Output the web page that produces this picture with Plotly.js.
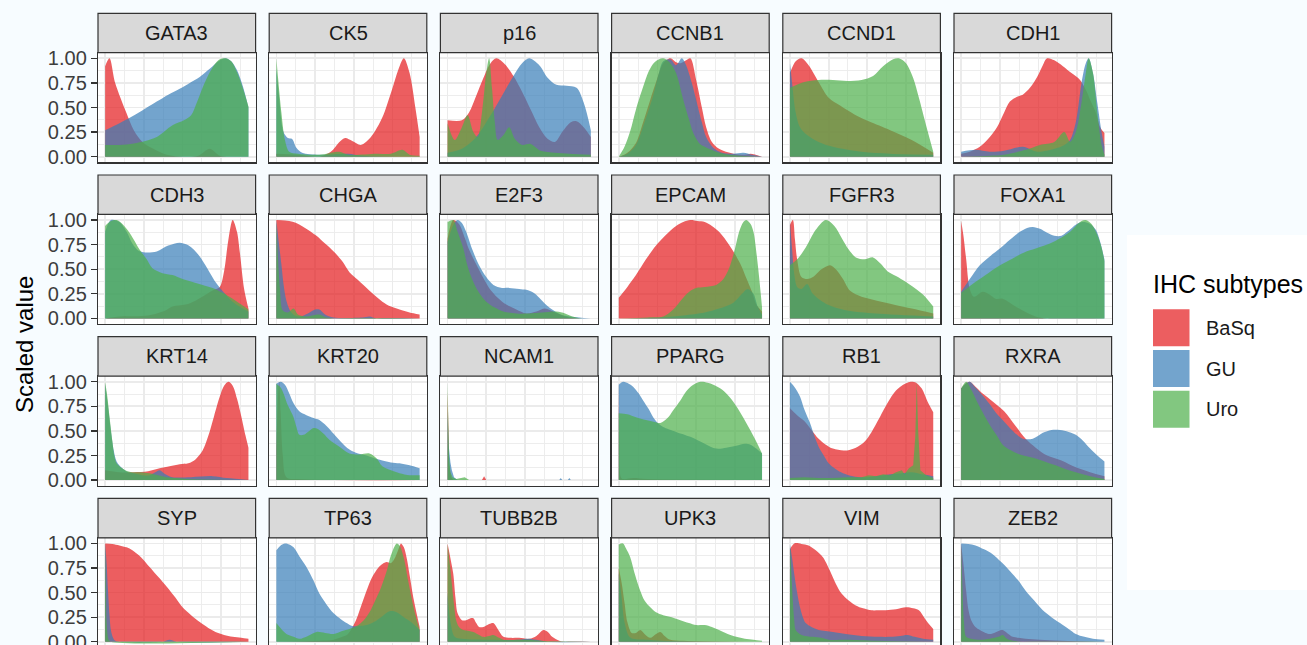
<!DOCTYPE html>
<html>
<head>
<meta charset="utf-8">
<script src="https://cdn.plot.ly/plotly-3.0.1.min.js"></script>
<style>
html,body{margin:0;padding:0;background:#f7fcff;overflow:hidden;}
#wrap{width:1307px;height:645px;overflow:hidden;}
#plot{width:1307px;height:660px;}
</style>
</head>
<body>
<div id="wrap"><div id="plot"></div></div>
<script>
// ---------- categories ----------
const subtypes = ['BaSq', 'GU', 'Uro'];
const genes = ['GATA3','CK5','p16','CCNB1','CCND1','CDH1',
               'CDH3','CHGA','E2F3','EPCAM','FGFR3','FOXA1',
               'KRT14','KRT20','NCAM1','PPARG','RB1','RXRA',
               'SYP','TP63','TUBB2B','UPK3','VIM','ZEB2'];
const yTickVals = [0, 0.25, 0.5, 0.75, 1];
const yTickText = ['0.00', '0.25', '0.50', '0.75', '1.00'];

// ---------- series values: [scaled expression, scaled density] ----------
const GATA3_BaSq = [[0,.92],[.03,1],[.07,.75],[.15,.44],[.2,.27],[.26,.15],[.33,.085],[.43,.02],[.55,0],[.65,.01],[.73,.08],[.8,.01],[.9,0],[1,0]];
const GATA3_GU = [[0,.27],[.1,.34],[.19,.41],[.28,.49],[.36,.56],[.44,.63],[.52,.69],[.59,.75],[.66,.81],[.71,.87],[.75,.92],[.8,.98],[.84,1],[.88,.97],[.92,.88],[.96,.72],[1,.5]];
const GATA3_Uro = [[0,.12],[.1,.12],[.2,.135],[.28,.16],[.36,.2],[.47,.32],[.55,.37],[.6,.42],[.64,.55],[.68,.7],[.72,.83],[.76,.93],[.8,.99],[.84,1],[.88,.97],[.92,.86],[.96,.7],[1,.51]];

const CK5_BaSq = [[0,.03],[.15,.02],[.3,0],[.38,.05],[.44,.15],[.48,.19],[.53,.16],[.59,.12],[.66,.2],[.74,.4],[.8,.65],[.86,.92],[.89,1],[.93,.85],[.97,.5],[1,.2]];
const CK5_GU = [[0,.9],[.02,.6],[.05,.25],[.08,.19],[.11,.18],[.14,.09],[.18,.04],[.3,.02],[.5,.03],[.6,.01],[1,0]];
const CK5_Uro = [[0,1],[.015,.75],[.035,.45],[.06,.17],[.09,.05],[.15,.03],[.3,.02],[.44,.05],[.5,.02],[.7,.03],[.8,.03],[.88,.07],[.93,.02],[1,.01]];

const p16_BaSq = [[0,.37],[.1,.37],[.15,.45],[.2,.62],[.25,.8],[.3,.95],[.34,1],[.4,.94],[.46,.82],[.52,.66],[.58,.48],[.64,.3],[.7,.18],[.75,.15],[.8,.25],[.86,.35],[.9,.36],[.95,.3],[1,.2]];
const p16_GU = [[0,.04],[.1,.08],[.2,.2],[.3,.42],[.38,.62],[.46,.82],[.52,.95],[.57,1],[.64,.93],[.7,.8],[.76,.73],[.83,.72],[.9,.7],[.95,.55],[1,.27]];
const p16_Uro = [[0,.34],[.05,.17],[.1,.3],[.14,.42],[.18,.25],[.21,.2],[.24,.45],[.27,.85],[.29,1],[.31,.7],[.33,.35],[.35,.17],[.39,.22],[.43,.3],[.47,.18],[.52,.12],[.58,.13],[.65,.06],[.75,.04],[.85,.03],[1,.02]];

const CCNB1_BaSq = [[0,0],[.06,.04],[.12,.14],[.17,.35],[.22,.58],[.27,.8],[.31,.95],[.36,1],[.4,.96],[.43,.95],[.47,.98],[.5,1],[.54,.78],[.58,.5],[.61,.3],[.65,.15],[.7,.08],[.8,.03],[.88,.02],[.92,.03],[1,0]];
const CCNB1_GU = [[0,0],[.06,.03],[.12,.12],[.18,.35],[.24,.62],[.28,.85],[.31,.97],[.36,.99],[.4,.93],[.44,1],[.47,.93],[.51,.75],[.54,.58],[.58,.35],[.61,.2],[.66,.09],[.72,.04],[.8,.03],[.87,.04],[.93,.02],[1,0]];
const CCNB1_Uro = [[0,0],[.04,.1],[.08,.26],[.12,.48],[.17,.71],[.21,.87],[.25,.96],[.31,1],[.36,.95],[.4,.85],[.45,.58],[.49,.38],[.52,.24],[.56,.14],[.6,.1],[.68,.05],[.77,.02],[.85,.01],[1,0]];

const CCND1_BaSq = [[0,.85],[.04,.97],[.08,1],[.13,.93],[.2,.76],[.27,.6],[.35,.52],[.45,.43],[.55,.36],[.7,.27],[.85,.17],[1,.04]];
const CCND1_GU = [[0,.95],[.015,.75],[.04,.45],[.07,.3],[.12,.22],[.2,.15],[.3,.1],[.5,.05],[.7,.03],[1,.02]];
const CCND1_Uro = [[0,.7],[.1,.76],[.2,.78],[.3,.78],[.4,.77],[.5,.78],[.58,.82],[.65,.92],[.72,.99],[.76,1],[.81,.95],[.86,.8],[.9,.6],[.95,.32],[1,.05]];

const CDH1_BaSq = [[0,.03],[.06,.05],[.13,.1],[.2,.2],[.25,.3],[.3,.45],[.34,.56],[.39,.61],[.43,.63],[.48,.7],[.53,.81],[.57,.93],[.6,1],[.65,.98],[.71,.92],[.77,.85],[.83,.78],[.87,.68],[.9,.58],[.94,.45],[.97,.3],[1,.24]];
const CDH1_GU = [[0,.05],[.1,.07],[.2,.05],[.3,.06],[.43,.1],[.53,.05],[.65,.08],[.72,.12],[.76,.17],[.8,.35],[.84,.75],[.87,.95],[.89,1],[.92,.85],[.95,.55],[.98,.25],[1,.1]];
const CDH1_Uro = [[0,0],[.2,.01],[.3,.02],[.45,.07],[.55,.12],[.65,.15],[.72,.25],[.76,.15],[.8,.25],[.84,.55],[.87,.85],[.89,1],[.92,.85],[.95,.45],[.98,.12],[1,.02]];

const CDH3_BaSq = [[0,0],[.1,.02],[.3,.03],[.42,.08],[.47,.12],[.56,.14],[.63,.18],[.7,.24],[.76,.29],[.8,.32],[.83,.48],[.86,.8],[.89,1],[.92,.88],[.94,.67],[.97,.3],[1,.1]];
const CDH3_GU = [[0,.88],[.04,1],[.1,.98],[.15,.88],[.19,.76],[.23,.69],[.28,.67],[.36,.68],[.44,.74],[.52,.77],[.57,.75],[.61,.71],[.66,.63],[.7,.54],[.77,.37],[.83,.26],[.89,.17],[.95,.11],[1,.07]];
const CDH3_Uro = [[0,.94],[.04,.99],[.08,1],[.12,.96],[.16,.89],[.2,.8],[.24,.7],[.29,.6],[.33,.51],[.4,.46],[.47,.44],[.54,.4],[.61,.37],[.68,.34],[.75,.31],[.82,.26],[.89,.2],[.95,.14],[1,.09]];

const CHGA_BaSq = [[0,1],[.06,.995],[.12,.98],[.2,.92],[.28,.84],[.34,.76],[.4,.68],[.46,.58],[.51,.47],[.57,.39],[.63,.31],[.69,.23],[.74,.17],[.8,.12],[.86,.09],[.93,.06],[1,.04]];
const CHGA_GU = [[0,1],[.015,.8],[.035,.55],[.05,.35],[.07,.18],[.1,.07],[.13,.03],[.17,.02],[.22,.05],[.27,.09],[.3,.09],[.34,.04],[.4,.01],[.6,.01],[.65,.02],[.7,0],[1,0]];
const CHGA_Uro = [[0,.98],[.012,.6],[.025,.3],[.045,.08],[.08,.06],[.12,.1],[.15,.04],[.2,.02],[.3,.04],[.35,.01],[1,0]];

const E2F3_BaSq = [[0,.81],[.04,1],[.08,.96],[.12,.82],[.15,.7],[.2,.55],[.25,.41],[.29,.31],[.35,.21],[.41,.14],[.48,.09],[.55,.05],[.62,.07],[.68,.1],[.75,.06],[.85,.01],[1,0]];
const E2F3_GU = [[0,.78],[.04,.95],[.07,1],[.1,.97],[.13,.88],[.17,.71],[.22,.54],[.27,.42],[.32,.34],[.38,.31],[.43,.31],[.5,.3],[.55,.29],[.6,.26],[.64,.21],[.68,.15],[.73,.09],[.79,.04],[.85,.02],[.92,.01],[1,0]];
const E2F3_Uro = [[0,.98],[.04,1],[.07,.88],[.11,.71],[.14,.53],[.18,.37],[.22,.26],[.27,.17],[.33,.11],[.39,.07],[.48,.05],[.57,.05],[.66,.06],[.76,.07],[.82,.05],[.87,.02],[.94,0],[1,0]];

const EPCAM_BaSq = [[0,.21],[.06,.32],[.12,.44],[.19,.6],[.26,.74],[.33,.85],[.4,.94],[.45,.98],[.5,1],[.55,.99],[.6,.98],[.65,.94],[.7,.88],[.75,.79],[.8,.68],[.85,.55],[.89,.41],[.93,.27],[.96,.14],[1,.07]];
const EPCAM_GU = [[0,0],[.3,.01],[.45,.03],[.6,.06],[.7,.1],[.8,.16],[.86,.25],[.9,.3],[.94,.25],[.97,.12],[1,.04]];
const EPCAM_Uro = [[0,0],[.2,.01],[.31,.02],[.38,.09],[.45,.21],[.5,.28],[.54,.31],[.6,.32],[.68,.34],[.73,.4],[.77,.51],[.81,.7],[.84,.88],[.87,.98],[.89,1],[.92,.96],[.94,.88],[.97,.55],[1,.11]];

const FGFR3_BaSq = [[0,.95],[.02,1],[.035,.8],[.05,.6],[.08,.42],[.12,.4],[.16,.42],[.22,.5],[.28,.54],[.32,.5],[.37,.4],[.42,.28],[.5,.22],[.58,.19],[.7,.15],[.85,.1],[1,.05]];
const FGFR3_GU = [[0,.98],[.015,.7],[.03,.45],[.05,.32],[.08,.3],[.12,.35],[.16,.25],[.25,.15],[.4,.08],[.6,.05],[1,.02]];
const FGFR3_Uro = [[0,.54],[.05,.6],[.11,.72],[.18,.9],[.25,1],[.31,.94],[.36,.82],[.41,.7],[.46,.62],[.52,.6],[.58,.62],[.63,.56],[.68,.48],[.74,.43],[.81,.37],[.87,.31],[.93,.24],[1,.12]];

const FOXA1_BaSq = [[0,.99],[.015,.85],[.035,.6],[.06,.3],[.09,.22],[.15,.27],[.2,.24],[.24,.2],[.29,.2],[.34,.16],[.38,.12],[.43,.08],[.52,.02],[.6,0],[1,0]];
const FOXA1_GU = [[0,.27],[.06,.4],[.13,.54],[.2,.63],[.27,.71],[.34,.8],[.41,.88],[.46,.92],[.5,.93],[.55,.91],[.6,.87],[.65,.84],[.7,.84],[.74,.88],[.78,.93],[.82,.97],[.86,.98],[.9,.96],[.94,.9],[.97,.78],[1,.6]];
const FOXA1_Uro = [[0,.26],[.08,.35],[.17,.44],[.26,.53],[.36,.61],[.44,.67],[.52,.71],[.6,.75],[.66,.79],[.72,.84],[.76,.88],[.8,.94],[.84,.99],[.87,1],[.91,.96],[.95,.85],[.98,.72],[1,.58]];

const KRT14_BaSq = [[0,.1],[.1,.08],[.2,.08],[.3,.09],[.38,.12],[.45,.14],[.52,.16],[.58,.17],[.63,.21],[.68,.3],[.72,.45],[.76,.65],[.8,.85],[.83,.96],[.86,1],[.89,.96],[.92,.83],[.95,.65],[.98,.45],[1,.33]];
const KRT14_GU = [[0,.98],[.02,.75],[.04,.5],[.06,.3],[.08,.19],[.12,.12],[.16,.08],[.2,.07],[.26,.05],[.31,.05],[.35,.08],[.38,.1],[.42,.06],[.47,.03],[.6,.03],[.75,.04],[.85,.02],[1,0]];
const KRT14_Uro = [[0,1],[.015,.85],[.03,.65],[.05,.4],[.065,.24],[.08,.17],[.1,.14],[.14,.1],[.19,.08],[.25,.08],[.31,.07],[.37,.05],[.43,.03],[.5,.02],[.57,.01],[1,0]];

const KRT20_BaSq = [[0,.3],[.01,.8],[.02,1],[.03,.7],[.045,.25],[.07,.03],[.15,.01],[1,0]];
const KRT20_GU = [[0,.98],[.03,1],[.06,.97],[.09,.88],[.12,.78],[.16,.7],[.21,.66],[.26,.63],[.3,.61],[.35,.55],[.4,.47],[.45,.39],[.51,.31],[.57,.27],[.63,.25],[.69,.22],[.74,.2],[.8,.18],[.86,.17],[.93,.15],[1,.12]];
const KRT20_Uro = [[0,.98],[.03,.94],[.05,.88],[.08,.76],[.12,.64],[.14,.54],[.16,.46],[.19,.46],[.22,.49],[.26,.53],[.29,.52],[.33,.47],[.37,.41],[.44,.34],[.51,.27],[.58,.26],[.65,.27],[.7,.22],[.74,.14],[.8,.1],[.86,.07],[.93,.05],[1,.05]];

const NCAM1_BaSq = [[0,.9],[.005,.5],[.012,.15],[.025,.03],[.04,0],[.24,0],[.255,.04],[.27,0],[1,0]];
const NCAM1_GU = [[0,.7],[.008,.35],[.02,.18],[.03,.1],[.045,.03],[.07,0],[.78,0],[.79,.02],[.8,0],[.84,0],[.85,.02],[.86,0],[1,0]];
const NCAM1_Uro = [[0,1],[.004,.6],[.01,.25],[.02,.08],[.035,.03],[.06,.01],[.1,.02],[.12,.03],[.15,0],[1,0]];

const PPARG_BaSq = [[0,1],[.005,.4],[.015,.03],[.03,.01],[.1,.02],[.2,.01],[1,0]];
const PPARG_GU = [[0,.97],[.03,1],[.07,.98],[.1,.95],[.14,.88],[.17,.81],[.21,.72],[.24,.64],[.28,.57],[.31,.54],[.4,.49],[.5,.44],[.6,.37],[.68,.32],[.75,.33],[.82,.35],[.88,.37],[.92,.36],[.96,.32],[1,.27]];
const PPARG_Uro = [[0,.68],[.06,.67],[.12,.64],[.19,.61],[.25,.59],[.29,.58],[.34,.63],[.38,.71],[.43,.81],[.47,.9],[.51,.96],[.57,1],[.62,.99],[.66,.97],[.71,.93],[.77,.85],[.83,.73],[.89,.58],[.95,.42],[1,.27]];

const RB1_BaSq = [[0,.73],[.05,.66],[.1,.6],[.15,.51],[.2,.42],[.25,.36],[.3,.32],[.38,.3],[.46,.33],[.52,.39],[.57,.49],[.62,.62],[.66,.73],[.7,.83],[.74,.91],[.78,.96],[.82,.99],[.85,1],[.88,.99],[.92,.93],[.96,.8],[1,.69]];
const RB1_GU = [[0,1],[.03,.95],[.07,.85],[.1,.72],[.14,.58],[.17,.45],[.2,.34],[.24,.24],[.27,.17],[.32,.11],[.37,.07],[.44,.04],[.51,.03],[.6,.04],[.7,.06],[.78,.07],[.85,.08],[.92,.06],[.97,.05],[1,.04]];
const RB1_Uro = [[0,.02],[.1,.03],[.2,.02],[.3,.02],[.4,.03],[.5,.03],[.55,.05],[.6,.04],[.65,.06],[.7,.05],[.74,.08],[.78,.1],[.8,.06],[.83,.12],[.86,.15],[.875,.45],[.885,1],[.895,.5],[.91,.1],[.95,.05],[1,.02]];

const RXRA_BaSq = [[0,.93],[.03,.98],[.06,1],[.1,.95],[.15,.88],[.22,.8],[.3,.7],[.38,.55],[.45,.42],[.52,.33],[.6,.25],[.7,.2],[.8,.13],[.9,.08],[1,.04]];
const RXRA_GU = [[0,.93],[.03,.98],[.06,1],[.1,.94],[.15,.86],[.2,.77],[.24,.69],[.29,.61],[.34,.53],[.39,.46],[.43,.42],[.5,.42],[.57,.48],[.63,.51],[.69,.51],[.75,.49],[.8,.46],[.85,.4],[.9,.32],[.95,.25],[1,.19]];
const RXRA_Uro = [[0,.93],[.035,1],[.07,.92],[.1,.83],[.15,.69],[.2,.56],[.25,.45],[.29,.36],[.35,.3],[.41,.26],[.52,.22],[.6,.18],[.66,.15],[.73,.11],[.8,.08],[.9,.04],[1,.01]];

const SYP_BaSq = [[0,1],[.05,.995],[.1,.98],[.15,.96],[.19,.93],[.25,.86],[.31,.76],[.37,.66],[.43,.56],[.49,.45],[.54,.35],[.6,.27],[.66,.2],[.72,.14],[.77,.1],[.83,.07],[.89,.05],[.95,.04],[1,.03]];
const SYP_GU = [[0,1],[.01,.8],[.02,.52],[.03,.28],[.04,.12],[.055,.04],[.07,.01],[.4,0],[.45,.02],[.5,0],[1,0]];
const SYP_Uro = [[0,.99],[.005,.6],[.01,.2],[.018,.06],[.025,.02],[.04,0],[1,0]];

const TP63_BaSq = [[0,0],[.3,.01],[.4,.02],[.46,.05],[.5,.08],[.55,.2],[.6,.4],[.64,.56],[.67,.66],[.71,.75],[.74,.79],[.77,.81],[.8,.8],[.83,.86],[.86,.97],[.87,1],[.89,.96],[.91,.85],[.93,.68],[.96,.42],[1,.15]];
const TP63_GU = [[0,.93],[.03,.98],[.06,1],[.09,.99],[.12,.96],[.16,.87],[.21,.76],[.26,.62],[.3,.49],[.35,.38],[.4,.29],[.45,.23],[.49,.19],[.53,.16],[.58,.16],[.63,.17],[.68,.2],[.74,.26],[.79,.31],[.84,.3],[.89,.25],[.94,.2],[1,.12]];
const TP63_Uro = [[0,.19],[.04,.12],[.07,.08],[.12,.05],[.16,.03],[.22,.06],[.28,.1],[.34,.09],[.4,.08],[.46,.11],[.51,.13],[.56,.16],[.61,.22],[.65,.3],[.69,.42],[.73,.55],[.77,.72],[.8,.88],[.84,1],[.86,.98],[.89,.85],[.92,.62],[.95,.4],[.98,.22],[1,.12]];

const TUBB2B_BaSq = [[0,1],[.02,.85],[.04,.69],[.055,.45],[.07,.29],[.1,.22],[.13,.22],[.16,.24],[.18,.24],[.2,.19],[.22,.15],[.25,.15],[.29,.18],[.32,.19],[.35,.13],[.39,.05],[.44,.04],[.5,.04],[.57,.03],[.62,.06],[.67,.12],[.7,.1],[.73,.05],[.78,.01],[.82,0],[1,0]];
const TUBB2B_GU = [[0,.5],[.02,.2],[.05,.05],[.1,.03],[.3,.02],[.5,.02],[.55,.03],[.62,.02],[.7,0],[1,0]];
const TUBB2B_Uro = [[0,.99],[.015,.8],[.03,.59],[.045,.38],[.06,.22],[.08,.15],[.11,.12],[.15,.11],[.18,.1],[.22,.07],[.25,.05],[.29,.06],[.32,.07],[.36,.04],[.39,.02],[.5,.02],[.57,.02],[.65,.01],[1,0]];

const UPK3_BaSq = [[0,.75],[.02,.6],[.04,.4],[.06,.2],[.09,.09],[.12,.09],[.15,.12],[.18,.08],[.22,.04],[.26,.08],[.29,.1],[.32,.06],[.36,.02],[.45,.01],[1,0]];
const UPK3_GU = [[0,.7],[.02,.45],[.04,.2],[.07,.06],[.1,.03],[.2,.02],[.3,.01],[1,0]];
const UPK3_Uro = [[0,.99],[.03,1],[.05,.95],[.08,.86],[.11,.7],[.15,.52],[.18,.42],[.22,.35],[.26,.3],[.31,.27],[.37,.25],[.43,.22],[.49,.19],[.54,.17],[.6,.17],[.65,.15],[.7,.12],[.76,.08],[.82,.05],[.88,.03],[.94,.02],[1,.01]];

const VIM_BaSq = [[0,.94],[.03,1],[.08,.995],[.13,.98],[.18,.93],[.23,.86],[.28,.72],[.32,.59],[.36,.49],[.41,.42],[.46,.37],[.51,.34],[.57,.32],[.62,.32],[.67,.32],[.74,.33],[.81,.35],[.86,.34],[.9,.32],[.94,.24],[.97,.18],[1,.13]];
const VIM_GU = [[0,.99],[.015,.85],[.03,.69],[.05,.5],[.07,.35],[.09,.25],[.11,.19],[.15,.15],[.2,.12],[.3,.1],[.39,.08],[.5,.06],[.62,.05],[.7,.05],[.77,.06],[.82,.07],[.87,.05],[.93,.03],[1,.02]];
const VIM_Uro = [[0,.96],[.01,.7],[.02,.42],[.03,.22],[.04,.12],[.08,.07],[.16,.05],[.22,.04],[.27,.02],[.4,.02],[.6,.01],[1,0]];

const ZEB2_BaSq = [[0,1],[.015,.8],[.035,.52],[.05,.33],[.07,.22],[.1,.15],[.13,.12],[.17,.09],[.2,.08],[.23,.09],[.26,.11],[.29,.12],[.32,.09],[.36,.05],[.4,.04],[.45,.03],[.55,.02],[.7,.01],[1,0]];
const ZEB2_GU = [[0,1],[.05,.995],[.1,.98],[.16,.94],[.22,.89],[.28,.81],[.34,.72],[.4,.62],[.45,.52],[.51,.42],[.57,.32],[.63,.25],[.69,.19],[.75,.13],[.8,.08],[.86,.05],[.92,.03],[1,.02]];
const ZEB2_Uro = [[0,.98],[.008,.6],[.02,.19],[.035,.05],[.07,.03],[.13,.02],[.2,.03],[.26,.05],[.29,.07],[.32,.03],[.36,.01],[1,0]];

// lookup built from the arrays above
const SERIES = {
  GATA3:[GATA3_BaSq,GATA3_GU,GATA3_Uro], CK5:[CK5_BaSq,CK5_GU,CK5_Uro], p16:[p16_BaSq,p16_GU,p16_Uro],
  CCNB1:[CCNB1_BaSq,CCNB1_GU,CCNB1_Uro], CCND1:[CCND1_BaSq,CCND1_GU,CCND1_Uro], CDH1:[CDH1_BaSq,CDH1_GU,CDH1_Uro],
  CDH3:[CDH3_BaSq,CDH3_GU,CDH3_Uro], CHGA:[CHGA_BaSq,CHGA_GU,CHGA_Uro], E2F3:[E2F3_BaSq,E2F3_GU,E2F3_Uro],
  EPCAM:[EPCAM_BaSq,EPCAM_GU,EPCAM_Uro], FGFR3:[FGFR3_BaSq,FGFR3_GU,FGFR3_Uro], FOXA1:[FOXA1_BaSq,FOXA1_GU,FOXA1_Uro],
  KRT14:[KRT14_BaSq,KRT14_GU,KRT14_Uro], KRT20:[KRT20_BaSq,KRT20_GU,KRT20_Uro], NCAM1:[NCAM1_BaSq,NCAM1_GU,NCAM1_Uro],
  PPARG:[PPARG_BaSq,PPARG_GU,PPARG_Uro], RB1:[RB1_BaSq,RB1_GU,RB1_Uro], RXRA:[RXRA_BaSq,RXRA_GU,RXRA_Uro],
  SYP:[SYP_BaSq,SYP_GU,SYP_Uro], TP63:[TP63_BaSq,TP63_GU,TP63_Uro], TUBB2B:[TUBB2B_BaSq,TUBB2B_GU,TUBB2B_Uro],
  UPK3:[UPK3_BaSq,UPK3_GU,UPK3_Uro], VIM:[VIM_BaSq,VIM_GU,VIM_Uro], ZEB2:[ZEB2_BaSq,ZEB2_GU,ZEB2_Uro]
};

// ---------- styles / geometry ----------
const W = 1307, H = 660;
const FONT = '"Liberation Sans", Arial, Helvetica, sans-serif';
const fills = ['rgba(228,26,28,0.7)', 'rgba(55,126,184,0.7)', 'rgba(77,175,74,0.7)'];
const linearSeries = new Set(['NCAM1_0','NCAM1_1','NCAM1_2','RB1_2']);
const colLeft0 = 98, colStep = 171.2, panelW = 157.6;
const rowTop0 = 13.3, rowStep = 161.7, stripH = 39.4, panelH = 109.6;
const xMajor = [0, 0.27, 0.54, 0.81], xMinor = [0.135, 0.405, 0.675, 0.945];
const yMinor = [0.125, 0.375, 0.625, 0.875];

const px = v => v / W;
const py = v => 1 - v / H;

const traces = [];
const layout = {
  width: W, height: H,
  margin: {l: 0, r: 0, t: 0, b: 0},
  paper_bgcolor: '#f7fcff',
  plot_bgcolor: '#ffffff',
  showlegend: false,
  font: {family: FONT, color: '#1a1a1a'},
  shapes: [], annotations: []
};

genes.forEach((g, i) => {
  const c = i % 6, r = Math.floor(i / 6);
  const n = i + 1, sfx = n === 1 ? '' : String(n);
  const L = colLeft0 + c * colStep;
  const T = rowTop0 + r * rowStep;
  const pTop = T + stripH, pBot = pTop + panelH;

  SERIES[g].forEach((pts, j) => {
    traces.push({
      type: 'scatter', mode: 'lines',
      x: pts.map(p => p[0]), y: pts.map(p => p[1]),
      xaxis: 'x' + sfx, yaxis: 'y' + sfx,
      line: {width: 0, color: fills[j], shape: linearSeries.has(g + '_' + j) ? 'linear' : 'spline', smoothing: 0.9},
      fill: 'tozeroy', fillcolor: fills[j],
      hoverinfo: 'skip', name: subtypes[j]
    });
  });

  layout['xaxis' + sfx] = {
    domain: [px(L), px(L + panelW)], anchor: 'y' + sfx,
    range: [-0.05, 1.05], fixedrange: true,
    tickvals: xMajor, showticklabels: false, ticks: '',
    showgrid: true, gridcolor: '#ebebeb', gridwidth: 1.7,
    minor: {tickvals: xMinor, showgrid: true, gridcolor: '#ebebeb', gridwidth: 0.9, ticks: ''},
    zeroline: false, showline: true, mirror: true, linecolor: '#333333', linewidth: 1.2
  };
  const left = c === 0;
  layout['yaxis' + sfx] = {
    domain: [py(pBot), py(pTop)], anchor: 'x' + sfx,
    range: [-0.057, 1.057], fixedrange: true,
    tickvals: yTickVals, ticktext: yTickText,
    showticklabels: left, ticks: left ? 'outside' : '', ticklen: 6, tickwidth: 1.3, tickcolor: '#333333',
    tickfont: {size: 20, color: '#3d3d3d', family: FONT},
    showgrid: true, gridcolor: '#ebebeb', gridwidth: 1.7,
    minor: {tickvals: yMinor, showgrid: true, gridcolor: '#ebebeb', gridwidth: 0.9, ticks: ''},
    zeroline: false, showline: true, mirror: true, linecolor: '#333333', linewidth: 1.2
  };

  // strip
  layout.shapes.push({type: 'rect', xref: 'paper', yref: 'paper',
    x0: px(L), x1: px(L + panelW), y0: py(T + stripH), y1: py(T),
    fillcolor: '#d9d9d9', line: {color: '#333333', width: 1.2}});
  layout.annotations.push({xref: 'paper', yref: 'paper', x: px(L + panelW / 2), y: py(T + stripH / 2),
    xanchor: 'center', yanchor: 'middle', showarrow: false, text: g,
    font: {size: 20, color: '#1a1a1a', family: FONT}});
});

// y-axis title
layout.annotations.push({xref: 'paper', yref: 'paper', x: px(24), y: py(345), textangle: -90,
  xanchor: 'center', yanchor: 'middle', showarrow: false, text: 'Scaled value',
  font: {size: 24, color: '#000000', family: FONT}});

// legend (drawn by hand)
layout.shapes.push({type: 'rect', xref: 'paper', yref: 'paper', x0: px(1127), x1: px(1307), y0: py(590), y1: py(235),
  fillcolor: '#ffffff', line: {width: 0}, layer: 'below'});
layout.annotations.push({xref: 'paper', yref: 'paper', x: px(1151), y: py(284), xanchor: 'left', yanchor: 'middle',
  showarrow: false, text: 'IHC subtypes', font: {size: 25, color: '#000000', family: FONT}});
const keyTop = [309.3, 350, 390.7];
subtypes.forEach((s, j) => {
  layout.shapes.push({type: 'rect', xref: 'paper', yref: 'paper', x0: px(1153), x1: px(1189.5),
    y0: py(keyTop[j] + 37), y1: py(keyTop[j]), fillcolor: fills[j], line: {width: 0}});
  layout.annotations.push({xref: 'paper', yref: 'paper', x: px(1204), y: py(keyTop[j] + 18.5),
    xanchor: 'left', yanchor: 'middle', showarrow: false, text: s,
    font: {size: 20, color: '#1a1a1a', family: FONT}});
});

Plotly.newPlot('plot', traces, layout, {staticPlot: true, displayModeBar: false});
</script>
</body>
</html>
